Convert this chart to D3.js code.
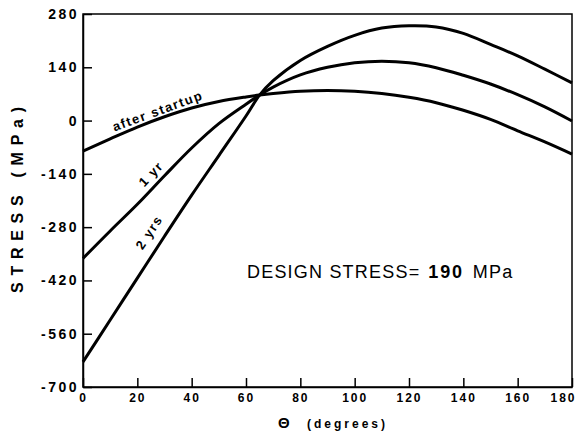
<!DOCTYPE html>
<html>
<head>
<meta charset="utf-8">
<script src="https://cdn.jsdelivr.net/npm/d3@7"></script>
<style>
  body { margin: 0; background: #fff; }
  svg { display: block; }
  .axis text { font-family: "Liberation Sans", Arial, sans-serif; font-weight: bold; fill: #000; }
</style>
</head>
<body>
<div id="chart"></div>
<script>
// values
const theta = [0, 10, 20, 30, 40, 50, 60, 65, 70, 80, 90, 100, 110, 120, 130, 140, 150, 160, 170, 180];
const afterStartup = [-80, -48, -17, 10, 33, 50, 62, 67, 71, 77, 79, 77, 71, 61, 47, 27, 3, -27, -56, -88];
const oneYear = [-362, -290, -220, -145, -72, -8, 43, 67, 88, 120, 140, 152, 156, 152, 139, 119, 96, 68, 36, -1];
const twoYears = [-634, -524, -414, -304, -196, -92, 12, 67, 105, 158, 195, 224, 243, 249, 246, 229, 200, 170, 135, 99];
const seriesNames = ["after startup", "1 yr", "2 yrs"];
const xTicks = [0, 20, 40, 60, 80, 100, 120, 140, 160, 180];
const yTicks = [280, 140, 0, -140, -280, -420, -560, -700];

const WIDTH = 580;
const HEIGHT = 433;
const margin = { top: 14, right: 8, bottom: 46, left: 83 };
const innerW = WIDTH - margin.left - margin.right;
const innerH = HEIGHT - margin.top - margin.bottom;

const svg = d3.select("#chart").append("svg").attr("width", WIDTH).attr("height", HEIGHT);
const g = svg.append("g").attr("transform", `translate(${margin.left},${margin.top})`);

const x = d3.scaleLinear().domain([0, 180]).range([0, innerW]);
const y = d3.scaleLinear().domain([-700, 280]).range([innerH, 0]);

// frame
g.append("rect")
  .attr("width", innerW)
  .attr("height", innerH)
  .attr("fill", "none")
  .attr("stroke", "#000")
  .attr("stroke-width", 1.5);

// axes, ticks pointing inward
const yAxis = g.append("g")
  .attr("class", "axis")
  .call(d3.axisLeft(y).tickValues(yTicks).tickSizeInner(-9).tickSizeOuter(0).tickPadding(4)
    .tickFormat((d) => (d < 0 ? "-" + Math.abs(d) : d)));
yAxis.selectAll("text").style("font-size", "14px").style("letter-spacing", "2.5px");

const xAxis = g.append("g")
  .attr("class", "axis")
  .attr("transform", `translate(0,${innerH})`)
  .call(d3.axisBottom(x).tickValues(xTicks).tickSizeInner(-9).tickSizeOuter(0).tickPadding(6));
xAxis.selectAll("text").style("font-size", "12px").style("letter-spacing", "2px");
// last label sits left of its tick so it stays inside the page
xAxis.selectAll(".tick").filter((d) => d === 180).select("text")
  .attr("text-anchor", "end").attr("x", 4);

[yAxis, xAxis].forEach((a) => {
  a.select(".domain").attr("stroke", "#000").attr("stroke-width", 1.5);
  a.selectAll(".tick line").attr("stroke", "#000").attr("stroke-width", 1.5);
});

// curves
const series = [afterStartup, oneYear, twoYears];
const line = d3.line()
  .x((d, i) => x(theta[i]))
  .y((d) => y(d))
  .curve(d3.curveCatmullRom.alpha(0.5));

g.selectAll("path.curve")
  .data(series)
  .enter()
  .append("path")
  .attr("class", "curve")
  .attr("d", line)
  .attr("fill", "none")
  .attr("stroke", "#000")
  .attr("stroke-width", 3);

// labels laid along each curve
function valueAt(values, t) {
  return d3.scaleLinear().domain(theta).range(values)(t);
}
const labelSpots = [
  { at: 28.5, offset: 7 },
  { at: 28, offset: 10 },
  { at: 29, offset: 14 },
];
series.forEach((values, i) => {
  const t = labelSpots[i].at;
  const x0 = x(t - 3), y0 = y(valueAt(values, t - 3));
  const x1 = x(t + 3), y1 = y(valueAt(values, t + 3));
  const a = Math.atan2(y1 - y0, x1 - x0);
  const off = labelSpots[i].offset;
  const cx = (x0 + x1) / 2 + Math.sin(a) * off;
  const cy = (y0 + y1) / 2 - Math.cos(a) * off;
  g.append("text")
    .attr("transform", `translate(${cx},${cy}) rotate(${(a * 180) / Math.PI})`)
    .attr("text-anchor", "middle")
    .attr("dominant-baseline", "middle")
    .style("font-family", '"Liberation Sans", Arial, sans-serif')
    .style("font-weight", "bold")
    .style("font-size", "13px")
    .style("letter-spacing", "1.5px")
    .text(seriesNames[i]);
});

// annotation
const note = svg.append("text")
  .attr("x", 247)
  .attr("y", 278)
  .style("font-family", '"Liberation Sans", Arial, sans-serif')
  .style("font-size", "18px")
  .style("letter-spacing", "1.2px");
note.append("tspan").text("DESIGN STRESS=");
note.append("tspan").attr("dx", 8).style("font-weight", "bold").style("letter-spacing", "1.8px").text("190");
note.append("tspan").attr("dx", 9).text("MPa");

// axis titles
svg.append("text")
  .attr("transform", "translate(23,200) rotate(-90)")
  .attr("text-anchor", "middle")
  .attr("textLength", 186)
  .attr("lengthAdjust", "spacing")
  .style("font-family", '"Liberation Sans", Arial, sans-serif')
  .style("font-weight", "bold")
  .style("font-size", "16px")
  .text("STRESS (MPa)");

const xTitle = svg.append("text")
  .attr("x", 278)
  .attr("y", 428)
  .style("font-family", '"Liberation Sans", Arial, sans-serif')
  .style("font-weight", "bold");
xTitle.append("tspan").style("font-size", "15px").text("Θ");
xTitle.append("tspan").attr("x", 307).attr("textLength", 78).attr("lengthAdjust", "spacing")
  .style("font-size", "12px").text("(degrees)");
</script>
</body>
</html>
